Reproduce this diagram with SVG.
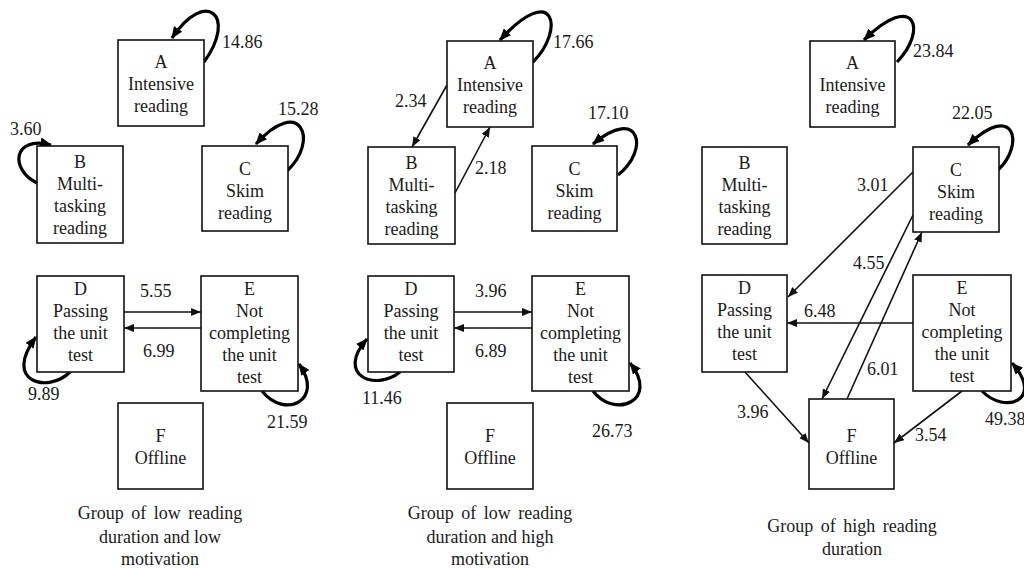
<svg xmlns="http://www.w3.org/2000/svg" width="1024" height="569" viewBox="0 0 1024 569">
<style>
text{font-family:"Liberation Serif","Times New Roman",serif;font-size:18px;fill:#1a1a1a}
.n text{text-anchor:middle}
.n rect{fill:#fff;stroke:#111;stroke-width:1.6}
.e{fill:none;stroke:#111;stroke-width:1.6;marker-end:url(#ah)}
.l{fill:none;stroke:#000;stroke-width:3.2;marker-end:url(#ahb)}
.cap{text-anchor:middle}
</style>
<defs>
<marker id="ah" markerUnits="userSpaceOnUse" markerWidth="10" markerHeight="8" refX="10" refY="4" orient="auto"><path d="M0,0 L10,4 L0,8 z" fill="#111"/></marker>
<marker id="ahb" markerUnits="userSpaceOnUse" markerWidth="12" markerHeight="10" refX="11" refY="5" orient="auto"><path d="M0,0 L12,5 L0,10 z" fill="#000"/></marker>
</defs>
<rect width="1024" height="569" fill="#fff"/>
<g id="connectors">
<!-- panel 1 -->
<path class="l" d="M204,62 C238,15 205,-12 172,38"/>
<path class="l" d="M37,183 C10,170 12,135 51,145"/>
<path class="l" d="M287,171 C320,140 300,95 256,144"/>
<path class="l" d="M70,372 C48,394 2,382 36,337"/>
<path class="l" d="M262,391 C285,420 325,400 299,364"/>
<path class="e" d="M124,312 L201,312"/>
<path class="e" d="M201,328 L124,328"/>
<!-- panel 2 -->
<path class="l" d="M533,62 C565,30 555,-20 500,40"/>
<path class="l" d="M618,175 C650,150 640,105 593,144"/>
<path class="l" d="M400,372 C375,392 335,375 367,339"/>
<path class="l" d="M593,391 C615,420 660,400 630,363"/>
<path class="e" d="M447,85 L412,147"/>
<path class="e" d="M455,193 L490,127"/>
<path class="e" d="M454,312 L532,312"/>
<path class="e" d="M532,328 L454,328"/>
<!-- panel 3 -->
<path class="l" d="M897,62 C928,30 915,-10 864,40"/>
<path class="l" d="M998,170 C1025,145 1015,100 968,145"/>
<path class="l" d="M982,391 C1005,415 1045,400 1012,363"/>
<path class="e" d="M913,172 L788,297"/>
<path class="e" d="M913,215 L822,399"/>
<path class="e" d="M847,399 L922,232"/>
<path class="e" d="M913,323 L787,323"/>
<path class="e" d="M745,372 L809,443"/>
<path class="e" d="M962,391 L894,443"/>
</g>
<g id="p1">
<g id="p1-A" class="n"><rect x="118" y="40" width="86" height="86"/><text x="161" y="68">A</text><text x="161" y="90">Intensive</text><text x="161" y="112">reading</text></g>
<g id="p1-B" class="n"><rect x="37" y="146" width="86" height="97"/><text x="80" y="168">B</text><text x="80" y="190">Multi-</text><text x="80" y="212">tasking</text><text x="80" y="234">reading</text></g>
<g id="p1-C" class="n"><rect x="202" y="146" width="86" height="85"/><text x="245" y="175">C</text><text x="245" y="197">Skim</text><text x="245" y="219">reading</text></g>
<g id="p1-D" class="n"><rect x="37" y="276" width="87" height="96"/><text x="80.5" y="295">D</text><text x="80.5" y="317">Passing</text><text x="80.5" y="339">the unit</text><text x="80.5" y="361">test</text></g>
<g id="p1-E" class="n"><rect x="201" y="276" width="97" height="115"/><text x="249.5" y="295">E</text><text x="249.5" y="317">Not</text><text x="249.5" y="339">completing</text><text x="249.5" y="361">the unit</text><text x="249.5" y="383">test</text></g>
<g id="p1-F" class="n"><rect x="118" y="403" width="85" height="86"/><text x="160.5" y="442">F</text><text x="160.5" y="464">Offline</text></g>
<g id="p1-labels"><text x="222" y="48">14.86</text><text x="10" y="135">3.60</text><text x="278" y="115">15.28</text><text x="140" y="297">5.55</text><text x="143" y="357">6.99</text><text x="28" y="400">9.89</text><text x="267" y="428">21.59</text></g>
<text class="cap" x="160" y="519" word-spacing="3">Group of low reading</text><text class="cap" x="160" y="543">duration and low</text><text class="cap" x="160" y="565">motivation</text>
</g>
<g id="p2">
<g id="p2-A" class="n"><rect x="447" y="41" width="86" height="86"/><text x="490" y="69">A</text><text x="490" y="91">Intensive</text><text x="490" y="113">reading</text></g>
<g id="p2-B" class="n"><rect x="368" y="147" width="87" height="97"/><text x="411.5" y="169">B</text><text x="411.5" y="191">Multi-</text><text x="411.5" y="213">tasking</text><text x="411.5" y="235">reading</text></g>
<g id="p2-C" class="n"><rect x="532" y="146" width="85" height="85"/><text x="574.5" y="175">C</text><text x="574.5" y="197">Skim</text><text x="574.5" y="219">reading</text></g>
<g id="p2-D" class="n"><rect x="368" y="276" width="86" height="96"/><text x="411" y="295">D</text><text x="411" y="317">Passing</text><text x="411" y="339">the unit</text><text x="411" y="361">test</text></g>
<g id="p2-E" class="n"><rect x="532" y="276" width="97" height="115"/><text x="580.5" y="295">E</text><text x="580.5" y="317">Not</text><text x="580.5" y="339">completing</text><text x="580.5" y="361">the unit</text><text x="580.5" y="383">test</text></g>
<g id="p2-F" class="n"><rect x="447" y="403" width="86" height="86"/><text x="490" y="442">F</text><text x="490" y="464">Offline</text></g>
<g id="p2-labels"><text x="553" y="48">17.66</text><text x="395" y="107">2.34</text><text x="475" y="174">2.18</text><text x="588" y="119">17.10</text><text x="475" y="297">3.96</text><text x="475" y="357">6.89</text><text x="362" y="404">11.46</text><text x="592" y="437">26.73</text></g>
<text class="cap" x="490" y="519" word-spacing="3">Group of low reading</text><text class="cap" x="490" y="543">duration and high</text><text class="cap" x="490" y="565">motivation</text>
</g>
<g id="p3">
<g id="p3-A" class="n"><rect x="810" y="41" width="85" height="86"/><text x="852.5" y="69">A</text><text x="852.5" y="91">Intensive</text><text x="852.5" y="113">reading</text></g>
<g id="p3-B" class="n"><rect x="702" y="147" width="85" height="97"/><text x="744.5" y="169">B</text><text x="744.5" y="191">Multi-</text><text x="744.5" y="213">tasking</text><text x="744.5" y="235">reading</text></g>
<g id="p3-C" class="n"><rect x="913" y="147" width="86" height="85"/><text x="956" y="176">C</text><text x="956" y="198">Skim</text><text x="956" y="220">reading</text></g>
<g id="p3-D" class="n"><rect x="702" y="275" width="85" height="97"/><text x="744.5" y="294">D</text><text x="744.5" y="316">Passing</text><text x="744.5" y="338">the unit</text><text x="744.5" y="360">test</text></g>
<g id="p3-E" class="n"><rect x="913" y="275" width="98" height="116"/><text x="962" y="294">E</text><text x="962" y="316">Not</text><text x="962" y="338">completing</text><text x="962" y="360">the unit</text><text x="962" y="382">test</text></g>
<g id="p3-F" class="n"><rect x="809" y="399" width="85" height="90"/><text x="851.5" y="442">F</text><text x="851.5" y="464">Offline</text></g>
<g id="p3-labels"><text x="913" y="57">23.84</text><text x="952" y="119">22.05</text><text x="857" y="191">3.01</text><text x="853" y="269">4.55</text><text x="804" y="317">6.48</text><text x="867" y="375">6.01</text><text x="737" y="418">3.96</text><text x="915" y="441">3.54</text><text x="985" y="425">49.38</text></g>
<text class="cap" x="852" y="532" word-spacing="3">Group of high reading</text><text class="cap" x="852" y="555">duration</text>
</g>
</svg>
